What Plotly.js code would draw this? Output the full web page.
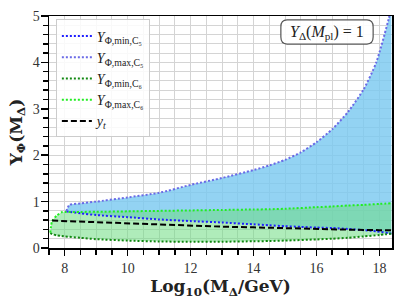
<!DOCTYPE html>
<html>
<head>
<meta charset="utf-8">
<script src="https://cdn.plot.ly/plotly-3.0.1.min.js"></script>
<style>html,body{margin:0;padding:0;background:#fff;}#chart{width:407px;height:305px;}</style>
</head>
<body>
<div id="chart"></div>
<script>
// log10(M_Delta/GeV) grid for the C5 curves
const xC5 = [8.05, 8.15, 8.5, 9, 10, 11, 12, 13, 14, 14.5, 15, 15.5, 16, 16.5, 17, 17.5, 17.9, 18.3, 18.38];
const yMaxC5 = [0.79, 0.93, 0.96, 1.0, 1.09, 1.19, 1.36, 1.51, 1.68, 1.78, 1.9, 2.06, 2.28, 2.56, 2.93, 3.42, 4.0, 4.95, 5.2];
const yMinC5 = [0.79, 0.78, 0.75, 0.71, 0.665, 0.615, 0.58, 0.55, 0.51, 0.49, 0.47, 0.455, 0.44, 0.43, 0.41, 0.385, 0.36, 0.32, 0.31];

// C6 curves
const xC6 = [7.54, 7.6, 7.75, 7.9, 8, 8.5, 9, 10, 11, 12, 13, 14, 14.5, 15, 16, 16.5, 17, 17.5, 18, 18.38];
const yMinC6 = [0.32, 0.3, 0.27, 0.26, 0.25, 0.22, 0.19, 0.16, 0.14, 0.135, 0.135, 0.145, 0.15, 0.16, 0.185, 0.2, 0.22, 0.25, 0.28, 0.31];
const yMaxC6 = [0.33, 0.58, 0.7, 0.77, 0.775, 0.778, 0.78, 0.79, 0.80, 0.81, 0.82, 0.83, 0.835, 0.845, 0.88, 0.895, 0.915, 0.93, 0.95, 0.965];

// top Yukawa
const xYt = [7.6, 8, 9, 10, 11, 12, 13, 14, 15, 16, 17, 18, 18.38];
const yYt = [0.59, 0.58, 0.56, 0.53, 0.50, 0.48, 0.46, 0.445, 0.425, 0.41, 0.395, 0.385, 0.38];

// ticks (every tick gets a grid line; only the major ones are labelled)
const xTickVals = [7.5, 8, 8.5, 9, 9.5, 10, 10.5, 11, 11.5, 12, 12.5, 13, 13.5, 14, 14.5, 15, 15.5, 16, 16.5, 17, 17.5, 18];
const xTickText = ['', '8', '', '', '', '10', '', '', '', '12', '', '', '', '14', '', '', '', '16', '', '', '', '18'];
const yTickVals = [0, 0.2, 0.4, 0.6, 0.8, 1, 1.2, 1.4, 1.6, 1.8, 2, 2.2, 2.4, 2.6, 2.8, 3, 3.2, 3.4, 3.6, 3.8, 4, 4.2, 4.4, 4.6, 4.8, 5];
const yTickText = ['0', '', '', '', '', '1', '', '', '', '', '2', '', '', '', '', '3', '', '', '', '', '4', '', '', '', '', '5'];
const xMajor = [8, 10, 12, 14, 16, 18];
const yMajor = [0, 1, 2, 3, 4, 5];

const names = [
  '<i>Y</i><sub>Φ,min,C₅</sub>',
  '<i>Y</i><sub>Φ,max,C₅</sub>',
  '<i>Y</i><sub>Φ,min,C₆</sub>',
  '<i>Y</i><sub>Φ,max,C₆</sub>',
  '<i>y<sub>t</sub></i>'
];

const FONT = 'DejaVu Serif, Liberation Serif, serif';
const TFONT = 'Liberation Serif, DejaVu Serif, serif';
const XR = [7.5, 18.4], YR = [0, 5];

const traces = [
  // blue band
  {x: xC5, y: yMinC5, mode: 'lines', line: {width: 0, shape: 'spline', smoothing: 0.6}, showlegend: false, hoverinfo: 'skip'},
  {x: xC5, y: yMaxC5, mode: 'lines', line: {width: 0, shape: 'spline', smoothing: 0.6}, fill: 'tonexty', fillcolor: 'rgba(120,200,240,0.8)', showlegend: false, hoverinfo: 'skip'},
  // green band
  {x: xC6, y: yMinC6, mode: 'lines', line: {width: 0, shape: 'spline', smoothing: 0.6}, showlegend: false, hoverinfo: 'skip'},
  {x: xC6, y: yMaxC6, mode: 'lines', line: {width: 0, shape: 'spline', smoothing: 0.6}, fill: 'tonexty', fillcolor: 'rgba(110,220,130,0.55)', showlegend: false, hoverinfo: 'skip'},
  // lines
  {x: xC5, y: yMinC5, mode: 'lines', name: names[0], line: {color: '#1f1fff', width: 2, dash: '2px,2px', shape: 'spline', smoothing: 0.6}},
  {x: xC5, y: yMaxC5, mode: 'lines', name: names[1], line: {color: '#6a6ae6', width: 2, dash: '2px,2px', shape: 'spline', smoothing: 0.6}},
  {x: xC6, y: yMinC6, mode: 'lines', name: names[2], line: {color: '#118811', width: 2, dash: '2px,2px', shape: 'spline', smoothing: 0.6}},
  {x: xC6, y: yMaxC6, mode: 'lines', name: names[3], line: {color: '#22ee22', width: 2, dash: '2px,2px', shape: 'spline', smoothing: 0.6}},
  {x: xYt, y: yYt, mode: 'lines', name: names[4], line: {color: '#000000', width: 2, dash: '6px,3px'}},
  // invisible carrier for the major-tick overlay axes
  {x: xYt, y: yYt, xaxis: 'x2', yaxis: 'y2', mode: 'lines', line: {width: 0}, opacity: 0, showlegend: false, hoverinfo: 'skip'}
];

const x0 = 0.676, x1 = 0.945, y0 = 0.879, y1 = 0.983, rx = 0.018, ry = 0.03;
const rr = `M ${x0+rx} ${y0} L ${x1-rx} ${y0} Q ${x1} ${y0} ${x1} ${y0+ry} L ${x1} ${y1-ry} Q ${x1} ${y1} ${x1-rx} ${y1} L ${x0+rx} ${y1} Q ${x0} ${y1} ${x0} ${y1-ry} L ${x0} ${y0+ry} Q ${x0} ${y0} ${x0+rx} ${y0} Z`;

const layout = {
  width: 407, height: 305,
  margin: {l: 49, r: 15, t: 16, b: 57},
  paper_bgcolor: '#fff', plot_bgcolor: '#fff',
  font: {family: TFONT, color: '#222'},
  xaxis: {
    range: XR, tickmode: 'array', tickvals: xTickVals, ticktext: xTickText,
    showline: true, linecolor: '#000', linewidth: 1.5, mirror: true,
    ticks: 'outside', ticklen: 5, tickwidth: 1.5, tickcolor: '#000',
    showgrid: true, gridcolor: '#d4d4d4', gridwidth: 1,
    zeroline: false, ticklabelstandoff: 2,
    tickfont: {family: TFONT, size: 14, color: '#333'},
    title: {text: '<b>Log<sub>10</sub>(M<sub>Δ</sub>/GeV)</b>', font: {family: FONT, size: 17, color: '#222'}, standoff: 2}
  },
  yaxis: {
    range: YR, tickmode: 'array', tickvals: yTickVals, ticktext: yTickText,
    showline: true, linecolor: '#000', linewidth: 1.5, mirror: true,
    ticks: 'outside', ticklen: 5, tickwidth: 1.5, tickcolor: '#000',
    showgrid: true, gridcolor: '#d4d4d4', gridwidth: 1,
    zeroline: false,
    tickfont: {family: TFONT, size: 14, color: '#333'},
    title: {text: '<b>Y<sub>Φ</sub>(M<sub>Δ</sub>)</b>', font: {family: FONT, size: 17, color: '#222'}, standoff: 6}
  },
  xaxis2: {
    overlaying: 'x', anchor: 'y2', side: 'bottom', range: XR, tickmode: 'array', tickvals: xMajor,
    ticks: 'outside', ticklen: 7, tickwidth: 1.5, tickcolor: '#000',
    showticklabels: false, showgrid: false, showline: false, zeroline: false
  },
  yaxis2: {
    overlaying: 'y', anchor: 'x2', side: 'left', range: YR, tickmode: 'array', tickvals: yMajor,
    ticks: 'outside', ticklen: 7, tickwidth: 1.5, tickcolor: '#000',
    showticklabels: false, showgrid: false, showline: false, zeroline: false
  },
  legend: {
    x: 0.02, y: 0.985, xanchor: 'left', yanchor: 'top',
    traceorder: 'normal',
    bgcolor: 'rgba(255,255,255,0.85)', bordercolor: '#cccccc', borderwidth: 1,
    font: {family: TFONT, size: 14, color: '#222'},
    itemwidth: 30, tracegroupgap: 0
  },
  shapes: [
    {type: 'path', xref: 'paper', yref: 'paper', path: rr, line: {color: '#555', width: 1.2}, fillcolor: 'rgba(255,255,255,0.9)', layer: 'above'}
  ],
  annotations: [
    {xref: 'paper', yref: 'paper', x: (x0+x1)/2, y: (y0+y1)/2, xanchor: 'center', yanchor: 'middle', showarrow: false,
     text: '<i>Y</i><sub>Δ</sub>(<i>M</i><sub>pl</sub>) = 1', font: {family: TFONT, size: 16, color: '#222'}}
  ]
};

Plotly.newPlot('chart', traces, layout, {staticPlot: true, displayModeBar: false});
</script>
</body>
</html>
